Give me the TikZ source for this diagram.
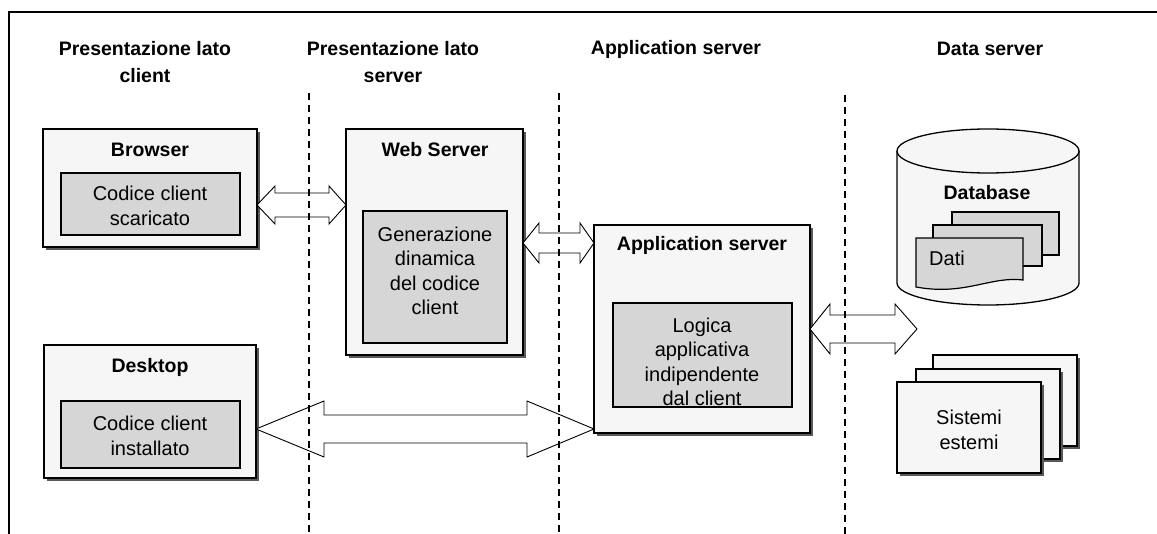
\documentclass[tikz,border=0pt]{standalone}
\usepackage{fontspec}
\setmainfont{Liberation Sans}
\usetikzlibrary{shadows,calc}
\tikzset{
  outerbox/.style={draw, line width=1.3pt, fill=gray!7, inner sep=0pt, outer sep=0pt,
    drop shadow={shadow xshift=3pt, shadow yshift=-3pt, fill=black!65, opacity=1}},
  innerbox/.style={draw, line width=1.3pt, fill=gray!32, inner sep=0pt, outer sep=0pt},
  boxtitle/.style={font=\fontsize{19.5}{24}\selectfont\bfseries},
  boxtext/.style={font=\fontsize{20}{24.5}\selectfont, align=center, inner sep=0pt},
  header/.style={font=\fontsize{19.5}{27}\selectfont\bfseries, align=center, inner sep=0pt},
  sepline/.style={dash pattern=on 7pt off 5pt, line width=1.4pt},
  fat/.style={draw, line width=0.9pt, fill=white},
  docshape/.style={draw, line width=1.2pt, fill=gray!32},
}
\newcommand\fatarrow[6]{%
  \draw[fat] let \p1=(#1), \p2=(#2) in
  (\x1,\y1) -- (\x1+#5pt,\y1+#4pt) -- (\x1+#5pt,\y1+#3pt) -- (\x2-#6pt,\y1+#3pt)
  -- (\x2-#6pt,\y1+#4pt) -- (\x2,\y1) -- (\x2-#6pt,\y1-#4pt) -- (\x2-#6pt,\y1-#3pt)
  -- (\x1+#5pt,\y1-#3pt) -- (\x1+#5pt,\y1-#4pt) -- cycle;}
\begin{document}
\begin{tikzpicture}[x=1pt, y=-1pt]
\useasboundingbox (0,0) rectangle (1157,534);
% frame
\draw[line width=1.6pt] (1157,12) -- (9,12) -- (9,534);
% headers
\node[header] (h1) at (145,62) {Presentazione lato\\client};
\node[header] (h2) at (393,62) {Presentazione lato\\server};
\node[header] (h3) at (676,49) {Application server};
\node[header] (h4) at (990,49) {Data server};

% Browser
\node[outerbox, minimum width=214pt, minimum height=118pt] (browser) at (150,188) {};
\node[boxtitle] (browsertitle) at (150,150) {Browser};
\node[innerbox, minimum width=179pt, minimum height=62pt] (browserin) at (150.5,204) {};
\node[boxtext] (browsertext) at (150,206) {Codice client\\scaricato};

% Desktop
\node[outerbox, minimum width=212pt, minimum height=133pt] (desktop) at (150,411.5) {};
\node[boxtitle] (desktoptitle) at (150,367) {Desktop};
\node[innerbox, minimum width=179pt, minimum height=67pt] (desktopin) at (150.5,434.5) {};
\node[boxtext] (desktoptext) at (150,436) {Codice client\\installato};

% Web server
\node[outerbox, minimum width=177pt, minimum height=226pt] (ws) at (434.5,242) {};
\node[boxtitle] (wstitle) at (435,150) {Web Server};
\node[innerbox, minimum width=144pt, minimum height=132pt] (wsin) at (435,277) {};
\node[boxtext] (wstext) at (435,271) {Generazione\\dinamica\\del codice\\client};

% Application server
\node[outerbox, minimum width=216pt, minimum height=208pt] (as) at (702,329) {};
\node[boxtitle] (astitle) at (702,245) {Application server};
\node[innerbox, minimum width=179pt, minimum height=104pt] (asin) at (702.5,355) {};
\node[boxtext] (astext) at (702,362) {Logica\\applicativa\\indipendente\\dal client};

% Database cylinder
\draw[line width=1.3pt, fill=gray!7] (897,151) -- (897,283)
  arc[start angle=180, end angle=360, x radius=91pt, y radius=22pt] -- (1079,151);
\draw[line width=1.3pt, fill=gray!7] (988,151) ellipse [x radius=91pt, y radius=22pt];
\coordinate (db) at (988,230);
\node[boxtitle] (dbtitle) at (987,193) {Database};
\draw[docshape] (952,212) rectangle (1059,255);
\draw[docshape] (933,225) rectangle (1042,266);
\draw[docshape] (916,238) -- (1023,238) -- (1023,280)
  .. controls (990,276) and (965,296) .. (916,287) -- cycle;
\node[boxtext] (dati) at (947,258) {Dati};

% Sistemi esterni
\node[outerbox, minimum width=144pt, minimum height=91pt] (sys3) at (1005,400.5) {};
\node[outerbox, minimum width=144pt, minimum height=90pt] (sys2) at (988,414) {};
\node[outerbox, minimum width=144pt, minimum height=91pt] (sys1) at (969,427.5) {};
\node[boxtext] (systext) at (969,430) {Sistemi\\estemi};

% arrows
\coordinate (dataend) at (917,329);
\fatarrow{[yshift=-17pt]browser.east}{ws.west}{12}{19}{18}{17}
\fatarrow{[yshift=-1pt]ws.east}{as.west}{10}{20}{16}{14}
\fatarrow{as.east}{dataend}{14}{25}{20}{22}
\fatarrow{[yshift=-17.5pt]desktop.east}{as.west}{14}{28}{68}{67}

% separators
\draw[sepline] (309,93) -- (309,534);
\draw[sepline] (559,93) -- (559,534);
\draw[sepline] (845,95) -- (845,534);
\end{tikzpicture}
\end{document}
